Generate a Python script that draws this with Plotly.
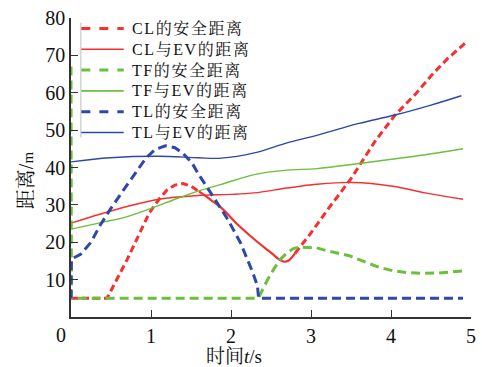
import plotly.graph_objects as go

# ---- data ----
t_cl_safe = [0, 0.45, 0.7, 0.98, 1.1, 1.2, 1.3, 1.4, 1.5, 1.6, 1.75, 1.88, 2.09, 2.29, 2.5,
             2.6, 2.66, 2.72, 2.8, 3.0, 3.2, 3.5, 3.8, 4.05, 4.3, 4.5, 4.7, 4.93]
cl_safe = [5, 5, 15.3, 27.9, 31.5, 34.0, 35.3, 35.7, 35.0, 33.6, 31.3, 29.2, 24.6, 20.8, 17.2,
           15.4, 14.8, 15.1, 17.0, 22.5, 28.5, 37.0, 47.0, 54.0, 59.5, 64.5, 69.0, 73.3]

t_cl_ev = [0, 0.36, 0.69, 1.1, 1.59, 2.0, 2.29, 2.7, 3.07, 3.52, 4.02, 4.43, 4.9]
cl_ev = [25.1, 27.5, 29.5, 31.5, 32.5, 32.8, 33.2, 34.5, 35.5, 36.0, 35.0, 33.2, 31.5]

t_tf_safe = [0, 0.005, 2.34, 2.4, 2.46, 2.54, 2.62, 2.7, 2.78, 2.86, 2.95, 3.07, 3.2, 3.48,
             3.69, 3.85, 4.02, 4.2, 4.39, 4.6, 4.9]
tf_safe = [67, 5, 5, 7.7, 10.1, 13.0, 15.5, 17.2, 18.3, 18.7, 18.7, 18.5, 17.7, 16.4,
           14.6, 13.3, 12.4, 11.9, 11.7, 11.8, 12.3]

t_tf_ev = [0, 0.36, 0.69, 1.02, 1.3, 1.59, 1.88, 2.29, 2.7, 3.07, 3.65, 4.3, 4.9]
tf_ev = [23.5, 25.2, 26.8, 29.2, 31.5, 33.7, 35.5, 38.1, 39.3, 39.7, 41.2, 43.0, 45.0]

t_tl_safe = [0, 0.005, 0.12, 0.25, 0.36, 0.49, 0.69, 0.94, 1.05, 1.18, 1.3, 1.4, 1.51, 1.6,
             1.72, 1.84, 1.96, 2.12, 2.2, 2.27, 2.33, 2.345, 4.9]
tl_safe = [5, 15.5, 16.8, 20.0, 24.4, 28.8, 35.0, 42.6, 44.8, 45.8, 45.3, 43.8, 41.3, 38.0,
           34.1, 30.2, 26.1, 19.8, 15.8, 12.0, 8.4, 5, 5]

t_tl_ev = [0, 0.49, 1.1, 1.59, 1.88, 2.29, 2.7, 3.0, 3.3, 3.6, 4.06, 4.5, 4.88]
tl_ev = [41.5, 42.6, 43.0, 42.6, 42.5, 43.9, 46.6, 48.2, 50.0, 51.8, 54.1, 56.7, 59.2]

legend_labels = ["CL的安全距离", "CL与EV的距离", "TF的安全距离", "TF与EV的距离", "TL的安全距离", "TL与EV的距离"]
x_ticks = [1, 2, 3, 4, 5]
y_ticks = [10, 20, 30, 40, 50, 60, 70, 80]

RED = "#f5302e"
GREEN = "#6cbf3c"
BLUE = "#2f47a6"
TXT = "#111111"
FONT = "Liberation Serif, 'Noto Serif CJK SC', 'Noto Sans CJK SC', serif"

fig = go.Figure()

# CL safe distance: dashed, with the descending stretch rendered solid as in the reference
i1 = t_cl_safe.index(1.6)
i2 = t_cl_safe.index(2.8)
fig.add_trace(go.Scatter(x=t_cl_safe[:i1 + 1], y=cl_safe[:i1 + 1], mode="lines",
                         line=dict(color=RED, width=3, dash="7px,4px"), showlegend=False))
fig.add_trace(go.Scatter(x=t_cl_safe[i1:i2 + 1], y=cl_safe[i1:i2 + 1], mode="lines",
                         line=dict(color=RED, width=2.2, shape="spline"), showlegend=False))
fig.add_trace(go.Scatter(x=t_cl_safe[i2:], y=cl_safe[i2:], mode="lines",
                         line=dict(color=RED, width=3, dash="7px,4px"), showlegend=False))
fig.add_trace(go.Scatter(x=t_cl_ev, y=cl_ev, mode="lines",
                         line=dict(color=RED, width=1.4, shape="spline"), showlegend=False))
fig.add_trace(go.Scatter(x=t_tf_safe, y=tf_safe, mode="lines",
                         line=dict(color=GREEN, width=3, dash="9px,5px"), showlegend=False))
fig.add_trace(go.Scatter(x=t_tf_ev, y=tf_ev, mode="lines",
                         line=dict(color=GREEN, width=1.4, shape="spline"), showlegend=False))
fig.add_trace(go.Scatter(x=t_tl_safe, y=tl_safe, mode="lines",
                         line=dict(color=BLUE, width=3, dash="9px,5px"), showlegend=False))
fig.add_trace(go.Scatter(x=t_tl_ev, y=tl_ev, mode="lines",
                         line=dict(color=BLUE, width=1.4, shape="spline"), showlegend=False))

# ---- manual legend (one multi-line text block + line samples) ----
leg_styles = [
    dict(color=RED, width=3, dash="dash"),
    dict(color=RED, width=1.6),
    dict(color=GREEN, width=3, dash="dash"),
    dict(color=GREEN, width=1.6),
    dict(color=BLUE, width=3, dash="dash"),
    dict(color=BLUE, width=1.6),
]
LEG_FS = 16
spacing = 1.3 * LEG_FS
center_y = 80.5
row_y = [center_y + (i - 2.5) * spacing for i in range(6)]


def px_to_paper_y(yy):
    return (317 - yy) / 299


shapes = [dict(type="line", xref="paper", yref="paper",
               x0=(80.5 - 70.5) / 406, x1=(80.5 - 70.5) / 406,
               y0=px_to_paper_y(row_y[0] - 6), y1=px_to_paper_y(row_y[-1] + 5),
               line=dict(color="#c8c8c8", width=1.2))]
for st, yy in zip(leg_styles, row_y):
    yp = px_to_paper_y(yy)
    shapes.append(dict(type="line", xref="paper", yref="paper",
                       x0=(81 - 70.5) / 406, x1=(124 - 70.5) / 406, y0=yp, y1=yp, line=st))

legend_text = "<br>".join("<span style='letter-spacing:1.6px'>%s</span>" % lab for lab in legend_labels)
annotations = [dict(text=legend_text, xref="paper", yref="paper", x=(130 - 70.5) / 406,
                    y=px_to_paper_y(center_y), xanchor="left", yanchor="middle", align="left",
                    showarrow=False, font=dict(family=FONT, size=LEG_FS, color=TXT))]

# corner "0" and axis titles
annotations.append(dict(text="0", xref="paper", yref="paper", x=(60 - 70.5) / 406, y=px_to_paper_y(335),
                        xanchor="center", yanchor="middle", showarrow=False,
                        font=dict(family=FONT, size=20, color=TXT)))
annotations.append(dict(text="时间<i>t</i>/s", xref="paper", yref="paper", x=(236 - 70.5) / 406,
                        y=px_to_paper_y(356), xanchor="center", yanchor="middle", showarrow=False,
                        font=dict(family=FONT, size=19, color=TXT)))
annotations.append(dict(text="距离/<span style='font-size:15px'>m</span>", xref="paper", yref="paper",
                        x=(25 - 70.5) / 406, y=px_to_paper_y(180), xanchor="center", yanchor="middle",
                        showarrow=False, textangle=-90,
                        font=dict(family=FONT, size=20, color=TXT)))

fig.update_layout(
    width=482, height=367,
    margin=dict(l=70.5, r=5.5, t=18, b=50, pad=0),
    plot_bgcolor="white", paper_bgcolor="white",
    font=dict(family=FONT, size=20, color=TXT),
    shapes=shapes, annotations=annotations,
    showlegend=False,
)
fig.update_xaxes(range=[0, 5], tickvals=x_ticks, ticktext=[str(v) for v in x_ticks],
                 ticks="inside", ticklen=7, tickwidth=1.3, tickcolor="#333",
                 showline=True, linecolor="#333", linewidth=1.5, showgrid=False, zeroline=False,
                 tickfont=dict(family=FONT, size=20, color=TXT))
fig.update_yaxes(range=[0, 80], tickvals=y_ticks, ticktext=[str(v) for v in y_ticks],
                 ticks="inside", ticklen=7, tickwidth=1.3, tickcolor="#333",
                 showline=True, linecolor="#333", linewidth=1.5, showgrid=False, zeroline=False,
                 tickfont=dict(family=FONT, size=20, color=TXT))

fig.write_html("out.html")
